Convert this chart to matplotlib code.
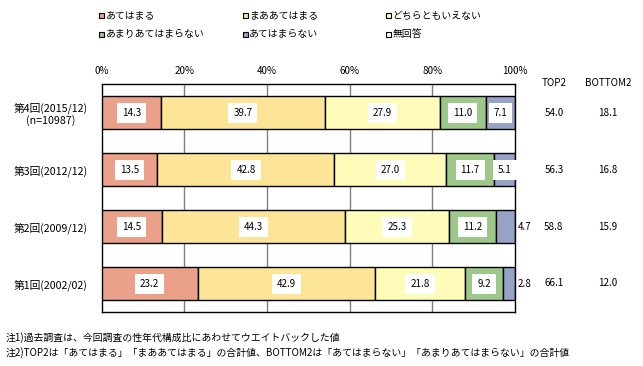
import matplotlib
matplotlib.use("Agg")
import matplotlib.pyplot as plt
from matplotlib.patches import Rectangle

plt.rcParams['font.family'] = ['Noto Sans CJK JP', 'DejaVu Sans']

categories = ["第4回(2015/12)\n(n=10987)", "第3回(2012/12)", "第2回(2009/12)", "第1回(2002/02)"]
series_names = ["あてはまる", "まああてはまる", "どちらともいえない", "あまりあてはまらない", "あてはまらない", "無回答"]
s1 = [14.3, 13.5, 14.5, 23.2]
s2 = [39.7, 42.8, 44.3, 42.9]
s3 = [27.9, 27.0, 25.3, 21.8]
s4 = [11.0, 11.7, 11.2, 9.2]
s5 = [7.1, 5.1, 4.7, 2.8]
s6 = [0.0, 0.0, 0.0, 0.0]
top2 = [54.0, 56.3, 58.8, 66.1]
bottom2 = [18.1, 16.8, 15.9, 12.0]
xticks = [0, 20, 40, 60, 80, 100]
xticklabels = ["0%", "20%", "40%", "60%", "80%", "100%"]
colors = ["#EBA08A", "#FCE597", "#FFFBB8", "#9DC88A", "#97A3C6", "#FFFFFF"]
notes = ["注1)過去調査は、今回調査の性年代構成比にあわせてウエイトバックした値",
         "注2)TOP2は「あてはまる」「まああてはまる」の合計値、BOTTOM2は「あてはまらない」「あまりあてはまらない」の合計値"]

W, H = 643, 366
fig = plt.figure(figsize=(W/100, H/100), dpi=100)
ax = fig.add_axes([101.7/W, 1-312.3/H, (515-101.7)/W, (312.3-84.3)/H])

series = [s1, s2, s3, s4, s5, s6]
ypos = list(range(len(categories)))
left = [0.0]*len(categories)
fs = 7.1
for k, vals in enumerate(series):
    ax.barh(ypos, vals, left=left, height=0.58, color=colors[k], edgecolor="black", linewidth=1.0, zorder=3)
    if k < 5:
        for i, v in enumerate(vals):
            cx = left[i] + v/2
            if v >= 5:
                ax.text(cx, i, f"{v:.1f}", ha="center", va="center", fontsize=fs, zorder=5,
                        bbox=dict(boxstyle="square,pad=0.5", fc="white", ec="none"))
            else:
                ax.text(100.6, i, f"{v:.1f}", ha="left", va="center", fontsize=fs, zorder=5)
    left = [l + v for l, v in zip(left, vals)]

ax.set_xlim(0, 100)
ax.set_ylim(len(categories)-0.5, -0.5)
ax.set_xticks(xticks)
ax.set_xticklabels(xticklabels, fontsize=fs)
ax.xaxis.tick_top()
ax.tick_params(axis='x', length=0, pad=6)
ax.set_yticks(ypos)
ax.set_yticklabels(categories, fontsize=7.7, multialignment='center', linespacing=1.1)
ax.tick_params(axis='y', length=0, pad=10)
for x in xticks[1:-1]:
    ax.axvline(x, color="#808080", lw=1.0, zorder=1)
for sp in ax.spines.values():
    sp.set_color("black")
    sp.set_linewidth(1.0)

def px2fig(x, y):
    return x/W, 1-y/H

fig.text(*px2fig(554, 83), "TOP2", ha="center", va="center", fontsize=fs)
fig.text(*px2fig(608, 83), "BOTTOM2", ha="center", va="center", fontsize=fs)
rowc = [112.7, 169.7, 226.5, 283.5]
for i in range(len(categories)):
    fig.text(*px2fig(554, rowc[i]), f"{top2[i]:.1f}", ha="center", va="center", fontsize=fs)
    fig.text(*px2fig(608, rowc[i]), f"{bottom2[i]:.1f}", ha="center", va="center", fontsize=fs)

# legend
leg_pos = [(101.7, 15.5), (245, 15.5), (388.5, 15.5), (101.7, 34.5), (245, 34.5), (388.5, 34.5)]
for k, name in enumerate(series_names):
    x, y = leg_pos[k]
    fig.patches.append(Rectangle(((x-2.5)/W, 1-(y+2.5)/H), 5/W, 5/H, transform=fig.transFigure,
                                 fc=colors[k], ec="black", lw=0.8))
    fig.text((x+4)/W, 1-y/H, name, ha="left", va="center", fontsize=fs)

fig.text(6/W, 1-338/H, notes[0], ha="left", va="center", fontsize=fs)
fig.text(6/W, 1-353/H, notes[1], ha="left", va="center", fontsize=fs)

fig.savefig("out.png", dpi=100)
